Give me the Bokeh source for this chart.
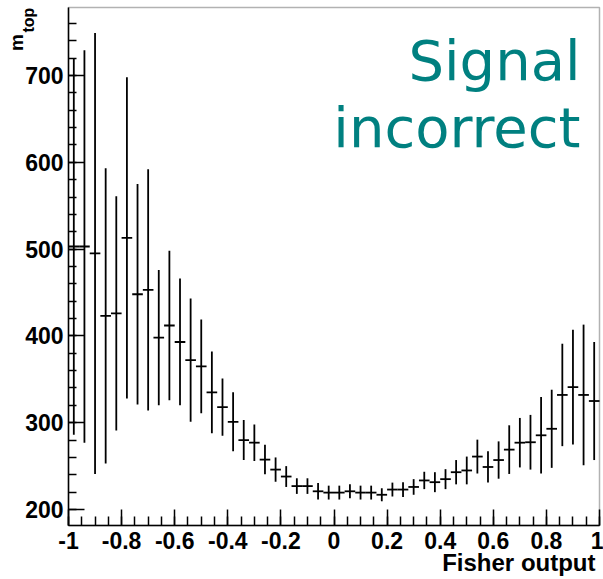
import numpy as np
from bokeh.plotting import figure
from bokeh.models import ColumnDataSource, Range1d, FixedTicker, Label, BoxAnnotation
from bokeh.embed import file_html
from bokeh.resources import INLINE

# ---------------- data ----------------
bin_lo = -1.0
bin_hi = 1.0
n_bins = 50

mean_mtop = [503, 503, 495, 423, 426, 513, 448, 453, 398, 412,
             393, 372, 365, 335, 318, 301, 280, 277, 257.5, 246,
             238, 227, 227, 221, 219.5, 219.5, 221, 219.5, 219.5, 217,
             223, 223, 226, 233.5, 231.5, 235, 243, 245, 261, 249,
             257, 269, 277, 277.5, 285.5, 293, 332, 341, 332, 325]
err_mtop = [217, 226, 254, 170, 135, 185, 127, 139, 78, 86,
            73, 71, 54, 47, 33, 34, 23, 21, 17, 14,
            12, 9, 9, 9.5, 8, 8, 8, 8, 8, 7.5,
            8, 8.5, 9, 10, 11.5, 11.5, 14, 16, 19.5, 18,
            21.5, 28, 28.5, 31.5, 44, 45, 59, 66, 81, 68]

x_ticks = [-1, -0.8, -0.6, -0.4, -0.2, 0, 0.2, 0.4, 0.6, 0.8, 1]
x_tick_labels = ["-1", "-0.8", "-0.6", "-0.4", "-0.2", "0", "0.2", "0.4", "0.6", "0.8", "1"]
y_ticks = [200, 300, 400, 500, 600, 700]

x_label = "Fisher output"
y_label_main = "m"
y_label_sub = "top"
title_lines = ["Signal", "incorrect"]

# ---------------- geometry ----------------
W, H = 603, 579
FL, FR, FT, FB = 68, 599, 7, 525   # pixel edges of the data box
XMIN, XMAX = -1.0, 1.0
YMIN, YMAX = 181.6, 778.3
BASE_SHIFT = 0.39                  # empirical baseline correction (em)


def dx(px):
    return XMIN + (px - FL) * (XMAX - XMIN) / (FR - FL)


def dy(py):
    return YMIN + (FB - py) * (YMAX - YMIN) / (FB - FT)


edges = np.linspace(bin_lo, bin_hi, n_bins + 1)
centers = 0.5 * (edges[:-1] + edges[1:])
m = np.array(mean_mtop, dtype=float)
e = np.array(err_mtop, dtype=float)

src = ColumnDataSource(dict(x=centers, xl=edges[:-1], xr=edges[1:],
                            y=m, lo=m - e, hi=m + e))

# the plotting frame covers the whole canvas; the data box sits inside it
p = figure(width=W, height=H, x_range=Range1d(dx(0), dx(W)), y_range=Range1d(dy(H), dy(0)),
           output_backend="svg", toolbar_location=None,
           min_border_left=0, min_border_right=0, min_border_top=0, min_border_bottom=0)
if p.title is not None:
    p.title.visible = False
p.background_fill_color = "white"
p.border_fill_color = "white"
p.outline_line_color = None
p.xgrid.visible = False
p.ygrid.visible = False

p.add_layout(BoxAnnotation(left=XMIN, right=XMAX, bottom=YMIN, top=YMAX,
                           fill_color=None, line_color="black", line_width=1.5))

p.segment(x0="x", y0="lo", x1="x", y1="hi", source=src, line_color="black", line_width=1.8)
p.segment(x0="xl", y0="y", x1="xr", y1="y", source=src, line_color="black", line_width=1.8)

x_minor = list(np.round(np.arange(-1.0, 1.0001, 0.05), 2))
y_minor = list(range(200, 780, 20))

xa = p.xaxis[0]
xa.ticker = FixedTicker(ticks=x_ticks, minor_ticks=x_minor)
xa.major_label_overrides = {t: l for t, l in zip(x_ticks, x_tick_labels)}
xa.fixed_location = YMIN
xa.bounds = (XMIN, XMAX)
ya = p.yaxis[0]
ya.ticker = FixedTicker(ticks=y_ticks, minor_ticks=y_minor)
ya.fixed_location = XMIN
ya.bounds = (YMIN, YMAX)

for ax, minor_len, standoff in ((xa, 9, 6), (ya, 8, 5)):
    ax.axis_line_color = "black"
    ax.axis_line_width = 1.5
    ax.major_tick_in = 16
    ax.major_tick_out = 0
    ax.minor_tick_in = minor_len
    ax.minor_tick_out = 0
    ax.major_tick_line_width = 1.5
    ax.minor_tick_line_width = 1.5
    ax.major_tick_line_color = "black"
    ax.minor_tick_line_color = "black"
    ax.major_label_text_font = "Liberation Sans"
    ax.major_label_text_font_style = "bold"
    ax.major_label_text_font_size = "23px"
    ax.major_label_text_color = "black"
    ax.major_label_standoff = standoff

# x axis title
p.add_layout(Label(x=dx(595), y=dy(571.5 - BASE_SHIFT * 24), text=x_label, text_align="right",
                   text_baseline="alphabetic", text_font="Liberation Sans",
                   text_font_style="bold", text_font_size="24px", text_color="black"))
# y axis title, rotated
p.add_layout(Label(x=dx(23.5 - BASE_SHIFT * 19), y=dy(50.5), text=y_label_main, angle=np.pi / 2,
                   text_align="left", text_baseline="alphabetic", text_font="Liberation Sans",
                   text_font_style="bold", text_font_size="19px", text_color="black"))
p.add_layout(Label(x=dx(34 - BASE_SHIFT * 16), y=dy(32), text=y_label_sub, angle=np.pi / 2,
                   text_align="left", text_baseline="alphabetic", text_font="Liberation Sans",
                   text_font_style="bold", text_font_size="16px", text_color="black"))

# big teal text
for line, base in zip(title_lines, (81.5, 148.5)):
    p.add_layout(Label(x=dx(580), y=dy(base - BASE_SHIFT * 56), text=line, text_align="right",
                       text_baseline="alphabetic", text_font="DejaVu Sans",
                       text_font_size="56px", text_color="#008080"))

open("out.html", "w").write(file_html(p, INLINE))
